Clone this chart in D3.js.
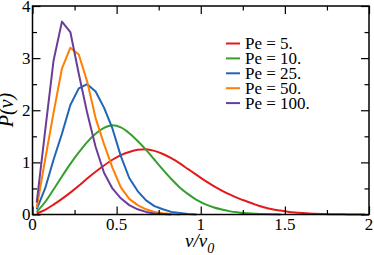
<!DOCTYPE html>
<html>
<head>
<meta charset="utf-8">
<script src="https://cdn.jsdelivr.net/npm/d3@7"></script>
<style>
  body { margin: 0; background: #fff; }
</style>
</head>
<body>
<div id="chart"></div>
<script>
// sample positions (bin centres, v/v0)
const xValues = d3.range(40).map(i => +(0.025 + 0.05 * i).toFixed(3));

// P(v), one array per Peclet number
const pe5 = [0.02, 0.09, 0.19, 0.30, 0.42, 0.55, 0.69, 0.82, 0.94, 1.05,
             1.14, 1.20, 1.24, 1.25, 1.22, 1.16, 1.08, 0.98, 0.87, 0.76,
             0.65, 0.55, 0.46, 0.38, 0.31, 0.25, 0.19, 0.14, 0.10, 0.075,
             0.05, 0.035, 0.022, 0.014, 0.008, 0.005, 0.003, 0.002, 0.001, 0];
const pe10 = [0.05, 0.24, 0.48, 0.73, 0.97, 1.19, 1.39, 1.55, 1.66, 1.71,
              1.67, 1.56, 1.41, 1.24, 1.05, 0.86, 0.68, 0.52, 0.39, 0.28,
              0.20, 0.14, 0.095, 0.06, 0.04, 0.025, 0.015, 0.01, 0.005, 0];
const pe25 = [0.10, 0.50, 1.05, 1.55, 2.10, 2.42, 2.50, 2.36, 2.05, 1.65,
              1.12, 0.70, 0.45, 0.27, 0.16, 0.10, 0.05, 0.03, 0.01, 0];
const pe50 = [0.13, 1.05, 1.95, 2.80, 3.20, 3.07, 2.55, 1.85, 1.35, 0.90,
              0.52, 0.30, 0.18, 0.10, 0.05, 0.025, 0.01, 0];
const pe100 = [0.23, 1.60, 2.95, 3.70, 3.50, 2.70, 1.95, 1.30, 0.80, 0.50,
               0.31, 0.18, 0.10, 0.05, 0.02, 0.01, 0];

const seriesNames = ["Pe = 5.", "Pe = 10.", "Pe = 25.", "Pe = 50.", "Pe = 100."];
const seriesValues = [pe5, pe10, pe25, pe50, pe100];
const seriesColors = ["#e31a1c", "#33a02c", "#1f66b4", "#ff7f00", "#6a3d9a"];
// low Pe curves look smooth, high Pe ones show the sampling
const seriesCurves = [d3.curveMonotoneX, d3.curveMonotoneX, d3.curveLinear, d3.curveLinear, d3.curveLinear];

const xTicks = [0, 0.5, 1, 1.5, 2];
const xTickLabels = ["0", "0.5", "1", "1.5", "2"];
const yTicks = [0, 1, 2, 3, 4];

const width = 374, height = 255;
const plot = {left: 32.5, right: 369, top: 6, bottom: 214.5};
const serif = "'Liberation Serif', 'Times New Roman', Tinos, serif";

const svg = d3.select("#chart").append("svg")
    .attr("width", width)
    .attr("height", height)
    .attr("font-family", serif);

const xScale = d3.scaleLinear().domain([0, 2]).range([plot.left, plot.right]);
const yScale = d3.scaleLinear().domain([0, 4]).range([plot.bottom, plot.top]);

// curves
seriesValues.forEach((vals, k) => {
    const line = d3.line()
        .x((d, i) => xScale(xValues[i]))
        .y(d => yScale(d))
        .curve(seriesCurves[k]);
    svg.append("path")
        .datum(vals)
        .attr("fill", "none")
        .attr("stroke", seriesColors[k])
        .attr("stroke-width", 2)
        .attr("stroke-linejoin", "round")
        .attr("d", line);
});

// axes: ticks pointing inward on all four sides
const minorX = d3.range(0.25, 2, 0.5);
const minorY = d3.range(0.5, 4, 1);

function drawAxis(axis, translate, major, minor, majorLen, minorLen) {
    const g = svg.append("g").attr("transform", translate);
    g.call(axis.tickValues(major).tickSize(majorLen).tickFormat(""));
    const gm = svg.append("g").attr("transform", translate);
    gm.call(axis.tickValues(minor).tickSize(minorLen).tickFormat(""));
    [g, gm].forEach(s => {
        s.select(".domain").remove();
        s.selectAll("line").attr("stroke", "#000").attr("stroke-width", 1.2);
    });
}

drawAxis(d3.axisTop(xScale), `translate(0,${plot.bottom})`, xTicks, minorX, 8, 4.5);
drawAxis(d3.axisBottom(xScale), `translate(0,${plot.top})`, xTicks, minorX, 8, 4.5);
drawAxis(d3.axisRight(yScale), `translate(${plot.left},0)`, yTicks, minorY, 8, 4.5);
drawAxis(d3.axisLeft(yScale), `translate(${plot.right},0)`, yTicks, minorY, 8, 4.5);

// frame
svg.append("rect")
    .attr("x", plot.left)
    .attr("y", plot.top)
    .attr("width", plot.right - plot.left)
    .attr("height", plot.bottom - plot.top)
    .attr("fill", "none")
    .attr("stroke", "#000")
    .attr("stroke-width", 1.5);

// tick labels
svg.selectAll(".xlab")
    .data(xTicks)
    .enter().append("text")
    .attr("x", d => xScale(d))
    .attr("y", plot.bottom + 15)
    .attr("text-anchor", "middle")
    .attr("font-size", "17px")
    .text((d, i) => xTickLabels[i]);

svg.selectAll(".ylab")
    .data(yTicks)
    .enter().append("text")
    .attr("x", plot.left - 2)
    .attr("y", d => yScale(d) + 5.5)
    .attr("text-anchor", "end")
    .attr("font-size", "17px")
    .text(d => d);

// axis titles
const xTitle = svg.append("text")
    .attr("x", 185)
    .attr("y", 246.5)
    .attr("font-size", "19px")
    .attr("font-style", "italic");
xTitle.append("tspan").text("v/v");
xTitle.append("tspan").attr("dy", 6).attr("font-size", "14px").text("0");

svg.append("text")
    .attr("transform", "translate(13,110) rotate(-90)")
    .attr("text-anchor", "middle")
    .attr("font-size", "20px")
    .attr("font-style", "italic")
    .text("P(v)");

// legend
const legend = svg.append("g").attr("transform", "translate(226,43.5)");
seriesNames.forEach((name, k) => {
    const row = legend.append("g").attr("transform", `translate(0,${k * 14.9})`);
    row.append("line")
        .attr("x1", 0).attr("x2", 14)
        .attr("y1", 0).attr("y2", 0)
        .attr("stroke", seriesColors[k])
        .attr("stroke-width", 2);
    row.append("text")
        .attr("x", 19)
        .attr("y", 5.5)
        .attr("font-size", "17px")
        .text(name);
});
</script>
</body>
</html>
